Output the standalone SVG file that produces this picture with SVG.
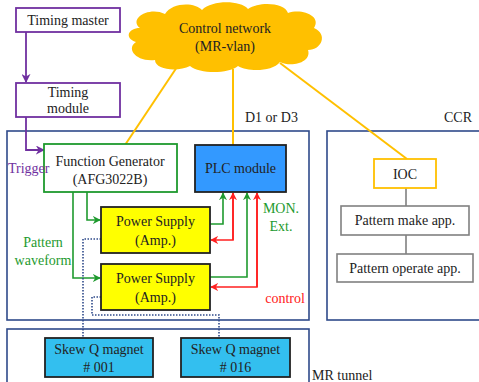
<svg xmlns="http://www.w3.org/2000/svg" width="479" height="382" viewBox="0 0 479 382">
<style>
text{font-family:"Times New Roman",Times,"Liberation Serif",Tinos,"DejaVu Serif","Noto Serif",serif;font-size:14px;text-anchor:middle;fill:#222}
.area{fill:none;stroke:#2F4A8A;stroke-width:1.6}
.lbl{text-anchor:start}
.purple{fill:none;stroke:#7030A0;stroke-width:1.8}
.green{fill:none;stroke:#1E9A2E;stroke-width:1.6}
.red{fill:none;stroke:#FF2020;stroke-width:1.6}
.net{fill:none;stroke:#FFC000;stroke-width:2}
.gray{fill:none;stroke:#808080;stroke-width:1.6}
.dot{fill:none;stroke:#2F4A8A;stroke-width:1.6;stroke-dasharray:1.5 1.5}
.ps{fill:#FFFF00;stroke:#222;stroke-width:1.8}
.mag{fill:#33BFEF;stroke:#222;stroke-width:1.8}
</style>
<defs>
<marker id="ap" viewBox="0 0 10 10" refX="9" refY="5" markerWidth="5" markerHeight="5" orient="auto"><path d="M0,0 L10,5 L0,10 L3,5 z" fill="#7030A0"/></marker>
<marker id="ag" viewBox="0 0 10 10" refX="9" refY="5" markerWidth="5" markerHeight="5" orient="auto"><path d="M0,0 L10,5 L0,10 L3,5 z" fill="#1E9A2E"/></marker>
<marker id="ar" viewBox="0 0 10 10" refX="9" refY="5" markerWidth="5" markerHeight="5" orient="auto"><path d="M0,0 L10,5 L0,10 L3,5 z" fill="#FF2020"/></marker>
</defs>
<rect width="479" height="382" fill="#fff"/>

<g id="areas">
<rect class="area" x="7" y="131" width="302" height="189"/>
<text class="lbl" x="245" y="122">D1 or D3</text>
<rect class="area" x="327" y="131" width="160" height="189"/>
<text class="lbl" x="444" y="122">CCR</text>
<rect class="area" x="7" y="329" width="302" height="70"/>
<text class="lbl" x="312" y="380">MR tunnel</text>
</g>

<g id="connectors">
<path class="net" d="M177,67 L125,145"/>
<path class="net" d="M233,69 L233,145"/>
<path class="net" d="M280,63 L407,159"/>
<path class="purple" d="M26,32 L26,82" marker-end="url(#ap)"/>
<path class="purple" d="M26,117 L26,150 L44,150" marker-end="url(#ap)"/>
<path class="green" d="M87,192 L87,220 L100,220" marker-end="url(#ag)"/>
<path class="green" d="M73,192 L73,278 L100,278" marker-end="url(#ag)"/>
<path class="green" d="M210,224 L223,224 L223,193" marker-end="url(#ag)"/>
<path class="red" d="M233,193 L233,240 L211,240" marker-end="url(#ar)"/>
<path class="red" d="M233,240 L233,193" marker-end="url(#ar)"/>
<path class="green" d="M210,277 L247,277 L247,193" marker-end="url(#ag)"/>
<path class="red" d="M257,193 L257,287 L211,287" marker-end="url(#ar)"/>
<path class="red" d="M257,287 L257,193" marker-end="url(#ar)"/>
<path class="dot" d="M101,239 L83,239 L83,338"/>
<path class="dot" d="M101,297 L92,297 L92,315 L219,315 L219,338"/>
<path class="gray" d="M406,188 L406,206 M406,235 L406,254"/>
</g>

<g id="cloud">
<path d="M140,28 C128,18 150,6 165,14 C172,2 195,2 202,10 C212,0 240,0 248,9 C260,1 285,3 288,13 C302,8 322,16 314,28 C328,34 322,50 308,50 C312,62 292,68 280,62 C272,72 248,72 238,66 C228,74 200,74 190,66 C178,72 155,70 155,60 C135,62 126,48 136,42 C124,38 128,28 140,28 Z" fill="#FFC000"/>
<text x="225" y="33">Control network</text>
<text x="225" y="51">(MR-vlan)</text>
</g>

<g id="timing-master">
<rect x="16" y="8" width="104" height="24" fill="#fff" stroke="#7030A0" stroke-width="1.8"/>
<text x="68" y="25">Timing master</text>
</g>

<g id="timing-module">
<rect x="16" y="83" width="104" height="34" fill="#fff" stroke="#7030A0" stroke-width="1.8"/>
<text x="68" y="97">Timing</text>
<text x="68" y="113">module</text>
</g>

<g id="function-generator">
<rect x="44" y="144" width="133" height="48" fill="#fff" stroke="#1E9A2E" stroke-width="1.8"/>
<text x="110" y="166">Function Generator</text>
<text x="110" y="184">(AFG3022B)</text>
</g>

<text x="8" y="173" class="lbl" style="fill:#7030A0">Trigger</text>

<g id="plc">
<rect x="195" y="145" width="91" height="47" fill="#3399FF" stroke="#222" stroke-width="1.8"/>
<text x="240.5" y="173">PLC module</text>
</g>

<g id="ps1">
<rect class="ps" x="101" y="207" width="109" height="46"/>
<text x="155.5" y="226">Power Supply</text>
<text x="155.5" y="245">(Amp.)</text>
</g>

<g id="ps2">
<rect class="ps" x="101" y="264" width="109" height="46"/>
<text x="155.5" y="283">Power Supply</text>
<text x="155.5" y="302">(Amp.)</text>
</g>

<text x="43" y="247" style="fill:#1E9A2E">Pattern</text>
<text x="43" y="265" style="fill:#1E9A2E">waveform</text>
<text x="281" y="213" style="fill:#1E9A2E">MON.</text>
<text x="281" y="231" style="fill:#1E9A2E">Ext.</text>
<text x="285" y="303" style="fill:#FF2020">control</text>

<g id="ioc">
<rect x="374" y="159" width="62" height="29" fill="#fff" stroke="#FFC000" stroke-width="1.8"/>
<text x="405" y="179">IOC</text>
</g>

<g id="pattern-make">
<rect x="341" y="206" width="128" height="29" fill="#fff" stroke="#808080" stroke-width="1.6"/>
<text x="405" y="225">Pattern make app.</text>
</g>

<g id="pattern-operate">
<rect x="337" y="254" width="136" height="28" fill="#fff" stroke="#808080" stroke-width="1.6"/>
<text x="405" y="273">Pattern operate app.</text>
</g>

<g id="skewq-001">
<rect class="mag" x="45" y="338" width="108" height="39"/>
<text x="99" y="354">Skew Q magnet</text>
<text x="99" y="372"># 001</text>
</g>

<g id="skewq-016">
<rect class="mag" x="181" y="338" width="109" height="39"/>
<text x="235.5" y="354">Skew Q magnet</text>
<text x="235.5" y="372"># 016</text>
</g>
</svg>
